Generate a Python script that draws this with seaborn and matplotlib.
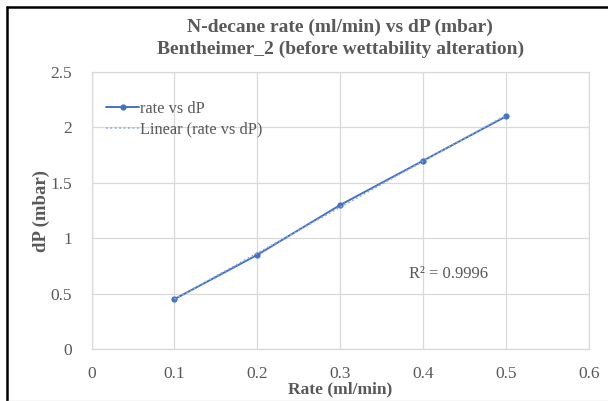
import numpy as np
import matplotlib
matplotlib.use("Agg")
import matplotlib.pyplot as plt
import seaborn as sns
from matplotlib.lines import Line2D

# dados
rate = [0.1, 0.2, 0.3, 0.4, 0.5]
dp = [0.45, 0.85, 1.3, 1.7, 2.1]
x_ticks = [0, 0.1, 0.2, 0.3, 0.4, 0.5, 0.6]
y_ticks = [0, 0.5, 1, 1.5, 2, 2.5]
x_labels = ["0", "0.1", "0.2", "0.3", "0.4", "0.5", "0.6"]
y_labels = ["0", "0.5", "1", "1.5", "2", "2.5"]

sns.set_theme(style="white")
plt.rcParams["font.family"] = ["Liberation Serif", "DejaVu Serif"]
cinza = "#595959"
azul = "#4472C4"

fig = plt.figure(figsize=(6.08, 4.01), dpi=100)
ax = fig.add_axes([0.1505, 0.1297, 0.8183, 0.6907])

sns.lineplot(x=rate, y=dp, ax=ax, color=azul, marker="o", markersize=4.5,
             markeredgewidth=0, linewidth=1.4, label="rate vs dP")

# linha de tendência linear
coef = np.polyfit(rate, dp, 1)
fit = np.polyval(coef, rate)
r2 = 1 - np.sum((np.array(dp) - fit) ** 2) / np.sum((np.array(dp) - np.mean(dp)) ** 2)
sns.lineplot(x=rate, y=fit, ax=ax, color="#8FAADC", linestyle=":", linewidth=1.2,
             label="Linear (rate vs dP)")

ax.set_xlim(0, 0.6)
ax.set_ylim(0, 2.5)
ax.set_xticks(x_ticks)
ax.set_xticklabels(x_labels)
ax.set_yticks(y_ticks)
ax.set_yticklabels(y_labels)
ax.tick_params(axis="x", length=0, labelsize=12.5, colors=cinza, pad=12)
ax.tick_params(axis="y", length=0, labelsize=12.5, colors=cinza, pad=14)
ax.grid(True, color="#D9D9D9", linewidth=0.9)
for s in ax.spines.values():
    s.set_color("#D9D9D9")
    s.set_linewidth(0.9)

ax.set_xlabel("Rate (ml/min)", fontsize=12.5, fontweight="bold", color=cinza, labelpad=0)
ax.set_ylabel("dP (mbar)", fontsize=13.5, fontweight="bold", color=cinza, labelpad=0)
ax.set_title("N-decane rate (ml/min) vs dP (mbar)\nBentheimer_2 (before wettability alteration)",
             fontsize=14, fontweight="bold", color=cinza, pad=13, linespacing=1.35)

ax.text(0.43, 0.677, f"R² = {r2:.4f}", fontsize=12, color=cinza, ha="center", va="center")

leg = ax.legend(loc="upper left", frameon=False, fontsize=11.8, labelcolor=cinza,
                handlelength=2.0, handletextpad=0.05, borderaxespad=0.5,
                labelspacing=0.3, bbox_to_anchor=(0.0, 0.95))

# moldura da figura (esquerda e topo pretos, base cinza)
fig.lines.append(Line2D([7 / 608, 7 / 608], [0, 1 - 7 / 401], transform=fig.transFigure,
                        color="black", linewidth=1.8))
fig.lines.append(Line2D([7 / 608, 1], [1 - 7 / 401, 1 - 7 / 401], transform=fig.transFigure,
                        color="black", linewidth=1.8))
fig.lines.append(Line2D([7 / 608, 1], [0.5 / 401, 0.5 / 401], transform=fig.transFigure,
                        color="#D9D9D9", linewidth=1.0))

fig.savefig("out.png", dpi=100)
